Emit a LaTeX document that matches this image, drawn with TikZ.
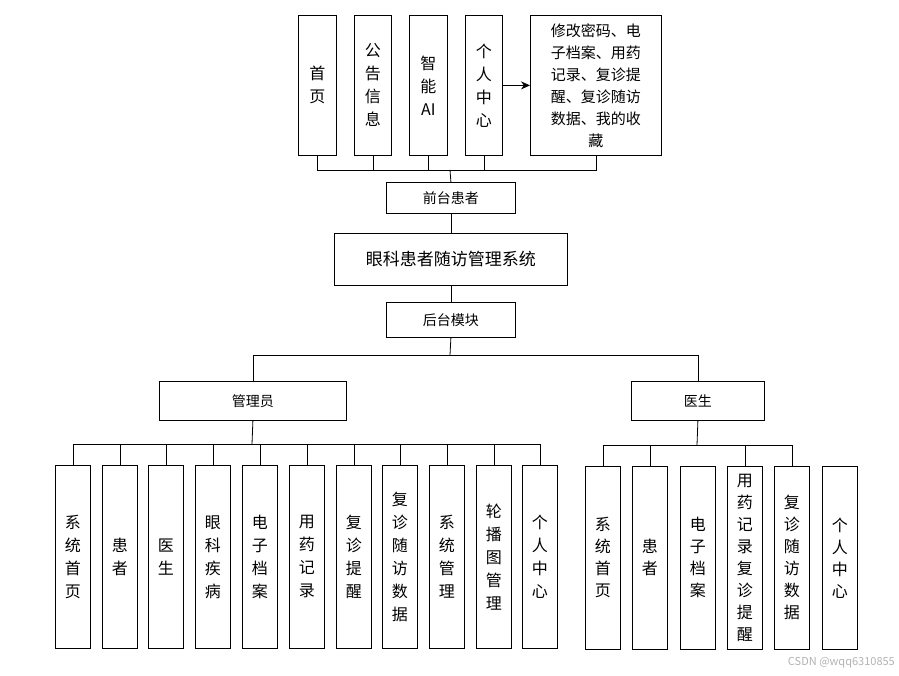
\documentclass[tikz,border=0pt]{standalone}
\usepackage{fontspec}
\setmainfont{Noto Sans CJK SC}
\usetikzlibrary{arrows.meta}
\begin{document}
\begin{tikzpicture}[x=1pt,y=-1pt,
  bx/.style={draw,line width=0.8pt,anchor=north west,inner sep=0pt,align=center,font=\fontsize{16}{23}\selectfont},
  ln/.style={line width=0.8pt}]
\useasboundingbox (0,0) rectangle (899,675);
% top
\node[bx,minimum width=38,minimum height=140] (t1) at (298,15) {首\\页};
\node[bx,minimum width=37,minimum height=140] (t2) at (354,15) {公\\告\\信\\息};
\node[bx,minimum width=38,minimum height=140] (t3) at (409,15) {智\\能\\AI};
\node[bx,minimum width=37,minimum height=140] (t4) at (465,15) {个\\人\\中\\心};
\node[bx,minimum width=131,minimum height=140,font=\fontsize{15}{22}\selectfont] (t5) at (530,15) {修改密码、电\\子档案、用药\\记录、复诊提\\醒、复诊随访\\数据、我的收\\藏};
\draw[ln,-{Stealth[length=9pt,width=8pt]}] (t4.east) -- (t5.west);
\node[bx,minimum width=129,minimum height=31,font=\fontsize{14}{16}\selectfont] (fq) at (386,182) {前台患者};
\node[bx,minimum width=233,minimum height=52,font=\fontsize{17}{20}\selectfont] (sys) at (334,233) {眼科患者随访管理系统};
\node[bx,minimum width=129,minimum height=35,font=\fontsize{14}{16}\selectfont] (ht) at (386,302) {后台模块};
\node[bx,minimum width=187,minimum height=39,font=\fontsize{14}{16}\selectfont] (adm) at (159,381) {管理员};
\node[bx,minimum width=133,minimum height=39,font=\fontsize{14}{16}\selectfont] (doc) at (631,381) {医生};
\coordinate (bt) at (450,170);
\foreach \n in {t1,t2,t3,t4,t5} \draw[ln] (\n.south) |- (bt);
\draw[ln] (t1.south|-bt) -- (t5.south|-bt);
\draw[ln] (bt) -- (fq.north);
\draw[ln] (fq) -- (sys);
\draw[ln] (sys) -- (ht);
\coordinate (hb) at (450,355);
\draw[ln] (ht.south) -- (hb);
\draw[ln] (adm.north|-hb) -- (doc.north|-hb);
\draw[ln] (adm.north|-hb) -- (adm.north);
\draw[ln] (doc.north|-hb) -- (doc.north);
% admin
\foreach \x/\t [count=\i] in {55/系\\统\\首\\页,102/患\\者,148/医\\生,195/眼\\科\\疾\\病,242/电\\子\\档\\案,289/用\\药\\记\\录,336/复\\诊\\提\\醒,382/复\\诊\\随\\访\\数\\据,429/系\\统\\管\\理,476/轮\\播\\图\\管\\理,522/个\\人\\中\\心}
  \node[bx,minimum width=35,minimum height=183] (a\i) at (\x,465) {\t};
\coordinate (ab) at (252,444);
\draw[ln] (a1.north|-ab) -- (a11.north|-ab);
\draw[ln] (adm.south) -- (ab);
\foreach \i in {1,...,11} \draw[ln] (a\i.north|-ab) -- (a\i.north);
% doctor
\foreach \x/\t [count=\i] in {585/系\\统\\首\\页,632/患\\者,680/电\\子\\档\\案,727/用\\药\\记\\录\\复\\诊\\提\\醒,774/复\\诊\\随\\访\\数\\据,822/个\\人\\中\\心}
  \node[bx,minimum width=35,minimum height=183,font=\fontsize{16}{22}\selectfont] (d\i) at (\x,466) {\t};
\coordinate (db) at (697,445);
\draw[ln] (d1.north|-db) -- (d5.north|-db);
\draw[ln] (doc.south) -- (db);
\foreach \i in {1,2,4,5} \draw[ln] (d\i.north|-db) -- (d\i.north);
\node[anchor=south east,font=\fontsize{11}{12}\selectfont,text=gray!60,inner sep=2pt] (wm) at (897,670) {CSDN @wqq6310855};
\end{tikzpicture}
\end{document}
